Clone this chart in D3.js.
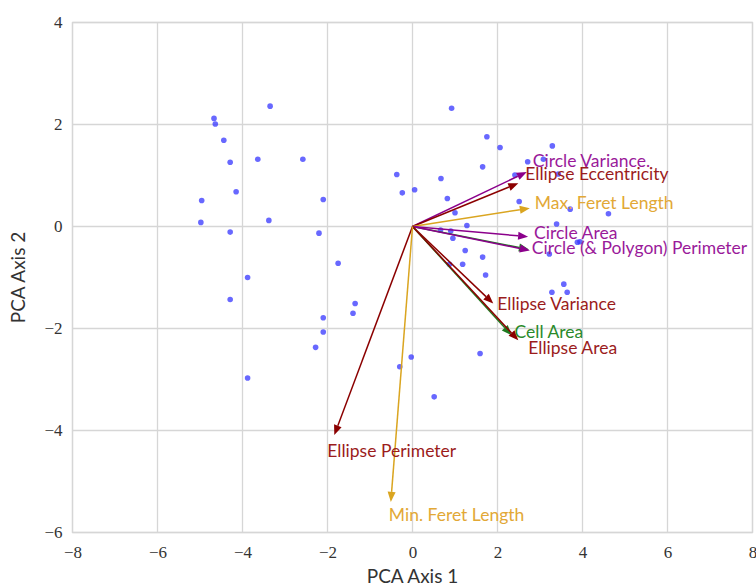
<!DOCTYPE html>
<html>
<head>
<meta charset="utf-8">
<script src="https://cdn.jsdelivr.net/npm/d3@7"></script>
<style>
  html, body { margin: 0; padding: 0; background: #fff; }
  svg { display: block; }
</style>
</head>
<body>
<svg id="chart" width="756" height="587"></svg>
<script>
// PCA scores (Axis 1, Axis 2) of each sample
const scoreX = [
  -3.35, -4.67, -4.64, -4.44, -4.29, -3.64, -2.58, -0.37, -0.24, -4.15,
  -4.96, -2.10, -4.98, -3.38, -4.29, -2.20, -1.75, -3.88, -4.29, -1.35,
  -1.40, -2.10, -2.10, -2.28, -3.88, -0.30, -0.03,
   0.92, 1.75, 2.06, 3.29, 1.65, 2.71, 3.08, 3.43, 2.41, 0.67,
   0.05, 0.82, 2.51, 3.71, 4.61, 1.00, 3.39, 1.28, 0.66, 0.90,
   0.95, 1.24, 1.65, 3.22, 3.88, 3.94, 1.18, 0.87, 1.72, 3.56,
   3.28, 3.64, 1.59, 0.51
];
const scoreY = [
   2.36, 2.12, 2.01, 1.69, 1.26, 1.32, 1.32, 1.02, 0.66, 0.68,
   0.51, 0.53, 0.08, 0.12, -0.11, -0.13, -0.72, -1.00, -1.43, -1.51,
  -1.70, -1.79, -2.07, -2.37, -2.97, -2.75, -2.56,
   2.32, 1.76, 1.55, 1.58, 1.17, 1.27, 1.32, 1.03, 1.01, 0.94,
   0.72, 0.55, 0.49, 0.34, 0.25, 0.27, 0.05, 0.02, -0.07, -0.09,
  -0.23, -0.47, -0.60, -0.54, -0.31, -0.30, -0.74, -0.74, -0.95, -1.13,
  -1.29, -1.29, -2.49, -3.34
];

// Feature loadings (scaled) drawn as arrows from the origin
const features = [
  "Polygon Perimeter", "Circle Variance.", "Ellipse Eccentricity", "Max. Feret Length",
  "Circle Area", "Circle (& Polygon) Perimeter", "Ellipse Variance", "Cell Area",
  "Ellipse Area", "Ellipse Perimeter", "Min. Feret Length"
];
const loadX = [2.74, 2.69, 2.49, 2.76, 2.72, 2.76, 1.90, 2.33, 2.49, -1.84, -0.51];
const loadY = [-0.45, 1.07, 0.85, 0.36, -0.20, -0.47, -1.51, -2.13, -2.23, -4.09, -5.40];
const groups = ["green", "purple", "red", "gold", "purple", "purple", "red", "green", "red", "red", "gold"];
const showLabel = [false, true, true, true, true, true, true, true, true, true, true];

// Tick values
const xTicks = [-8, -6, -4, -2, 0, 2, 4, 6, 8];
const yTicks = [-6, -4, -2, 0, 2, 4];

// Styling
const arrowColor = { purple: "#8b008b", red: "#8b0000", gold: "#daa520", green: "#1f7a1f" };
const labelColor = { purple: "#9a1a9a", red: "#9b1c1c", gold: "#e2a836", green: "#2a8a2a" };
// label offset from arrow tip in pixels [dx, dy]
const labelNudge = {
  "Circle Variance.": [6, -11],
  "Ellipse Eccentricity": [7, -10],
  "Max. Feret Length": [5, -6],
  "Circle Area": [6, -4],
  "Circle (& Polygon) Perimeter": [2, -3],
  "Ellipse Variance": [4, 0],
  "Cell Area": [3, -4],
  "Ellipse Area": [10, 7],
  "Ellipse Perimeter": [-7, 15],
  "Min. Feret Length": [-2, 13]
};

const svg = d3.select("#chart");
const plotL = 72.5, plotR = 752.5, plotT = 22.5, plotB = 532.5;

const x = d3.scaleLinear().domain([-8, 8]).range([plotL, plotR]);
const y = d3.scaleLinear().domain([-6, 4]).range([plotB, plotT]);

const gridColor = "#d6d6d6";

// grid
const grid = svg.append("g");
grid.selectAll("line.vx").data(xTicks).join("line")
  .attr("x1", d => x(d)).attr("x2", d => x(d))
  .attr("y1", plotT).attr("y2", plotB)
  .attr("stroke", gridColor).attr("stroke-width", 1.3);
grid.selectAll("line.hy").data(yTicks).join("line")
  .attr("y1", d => y(d)).attr("y2", d => y(d))
  .attr("x1", plotL).attr("x2", plotR)
  .attr("stroke", gridColor).attr("stroke-width", 1.3);
svg.append("rect")
  .attr("x", plotL).attr("y", plotT)
  .attr("width", plotR - plotL).attr("height", plotB - plotT)
  .attr("fill", "none").attr("stroke", gridColor).attr("stroke-width", 1.3);

const fmt = d => (d < 0 ? "\u2212" + Math.abs(d) : String(d));

// axes via d3 (no tick marks, no domain line)
const xAxis = svg.append("g")
  .attr("transform", `translate(0,${plotB})`)
  .call(d3.axisBottom(x).tickValues(xTicks).tickFormat(fmt).tickSize(0).tickPadding(13));
const yAxis = svg.append("g")
  .attr("transform", `translate(${plotL},0)`)
  .call(d3.axisLeft(y).tickValues(yTicks).tickFormat(fmt).tickSize(0).tickPadding(10));
[xAxis, yAxis].forEach(g => {
  g.select(".domain").remove();
  g.selectAll("text")
    .attr("fill", "#333")
    .style("font-family", "'Liberation Serif', 'DejaVu Serif', serif")
    .style("font-size", "17px");
});

// axis titles
svg.append("text")
  .attr("x", x(0)).attr("y", 583)
  .attr("text-anchor", "middle")
  .attr("fill", "#333")
  .style("font-family", "Lato, 'Open Sans', sans-serif")
  .style("font-size", "19px")
  .text("PCA Axis 1");
svg.append("text")
  .attr("transform", `translate(25,${(plotT + plotB) / 2}) rotate(-90)`)
  .attr("text-anchor", "middle")
  .attr("fill", "#333")
  .style("font-family", "Lato, 'Open Sans', sans-serif")
  .style("font-size", "19px")
  .text("PCA Axis 2");

// sample points
svg.append("g").selectAll("circle")
  .data(d3.range(scoreX.length))
  .join("circle")
  .attr("cx", i => x(scoreX[i]))
  .attr("cy", i => y(scoreY[i]))
  .attr("r", 2.8)
  .attr("fill", "#3535ff")
  .attr("fill-opacity", 0.75);

// loading arrows
const arrows = svg.append("g");
const headLen = 10, headHalf = 4;
features.forEach((name, i) => {
  const x0 = x(0), y0 = y(0);
  const tx = x(loadX[i]), ty = y(loadY[i]);
  const ang = Math.atan2(ty - y0, tx - x0);
  const bx = tx - headLen * Math.cos(ang), by = ty - headLen * Math.sin(ang);
  const c = arrowColor[groups[i]];
  arrows.append("line")
    .attr("x1", x0).attr("y1", y0).attr("x2", bx).attr("y2", by)
    .attr("stroke", c).attr("stroke-width", 1.5);
  const px = -Math.sin(ang) * headHalf, py = Math.cos(ang) * headHalf;
  arrows.append("path")
    .attr("d", `M${tx},${ty}L${bx + px},${by + py}L${bx - px},${by - py}Z`)
    .attr("fill", c);
});

// loading labels
const labels = svg.append("g");
features.forEach((name, i) => {
  if (!showLabel[i]) return;
  const [dx, dy] = labelNudge[name];
  labels.append("text")
    .attr("x", x(loadX[i]) + dx)
    .attr("y", y(loadY[i]) + dy)
    .attr("dominant-baseline", "central")
    .attr("fill", labelColor[groups[i]])
    .style("font-family", "Lato, 'Open Sans', sans-serif")
    .style("font-size", "17.5px")
    .text(name);
});
</script>
</body>
</html>
